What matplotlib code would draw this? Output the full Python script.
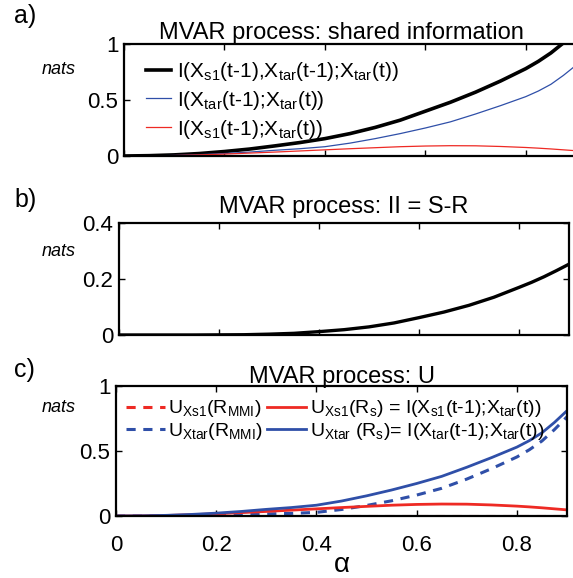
import matplotlib
matplotlib.use('Agg')
import matplotlib.pyplot as plt

# alpha grid and information curves (nats)
alpha = [0, .05, .1, .15, .2, .25, .3, .35, .4, .45, .5, .55, .6, .65, .7, .75, .8, .825, .85, .875, .9]

i_joint = [0, .003, .01, .022, .04, .062, .09, .12, .155, .2, .255, .32, .40, .48, .57, .67, .78, .845, .92, 1.01, 1.12]
i_tar = [0, .001, .005, .012, .022, .035, .051, .065, .083, .115, .155, .2, .25, .305, .375, .45, .53, .58, .64, .72, .81]
i_s1 = [0, .001, .004, .01, .017, .026, .035, .045, .055, .065, .074, .083, .089, .092, .091, .085, .076, .07, .063, .055, .047]

ii_sr = [0, 0, 0, 0, .0005, .001, .003, .006, .012, .019, .029, .043, .062, .082, .106, .135, .17, .188, .208, .23, .253]

u_s1_mmi = [0] * len(alpha)
u_tar_mmi = [0, 0, .001, .002, .005, .009, .016, .02, .028, .05, .081, .117, .161, .213, .284, .365, .454, .51, .577, .665, .763]

xticks = [0, 0.2, 0.4, 0.6, 0.8]

plt.rcParams['font.family'] = ['Liberation Sans', 'DejaVu Sans']
plt.rcParams['mathtext.default'] = 'regular'

AZUL = '#2f4fa8'
VERMELHO = '#ee2a24'

W, H = 573, 578


def caixa(x0, y_top, x1, y_bot):
    # pixel box -> figure fraction
    return [x0 / W, (H - y_bot) / H, (x1 - x0) / W, (y_bot - y_top) / H]


def estilo_eixo(ax, ylim, yticks, ylabels, rotulo_x=False):
    ax.set_xlim(0, 0.9)
    ax.set_ylim(*ylim)
    ax.set_xticks(xticks)
    ax.set_yticks(yticks)
    ax.set_yticklabels(ylabels)
    ax.tick_params(direction='in', top=True, right=True, length=4, width=1,
                   labelsize=16, pad=4)
    if rotulo_x:
        ax.set_xticklabels(['0', '0.2', '0.4', '0.6', '0.8'])
        ax.tick_params(axis='x', pad=14)
    else:
        ax.set_xticklabels([])
    for s in ax.spines.values():
        s.set_linewidth(1.6)


fig = plt.figure(figsize=(W / 100, H / 100), dpi=100)

# a) shared information
ax1 = fig.add_axes(caixa(124, 44, 576, 156))
ax1.plot(alpha, i_joint, color='black', lw=2.6,
         label=r'I(X$_{s1}$(t-1),X$_{tar}$(t-1);X$_{tar}$(t))')
ax1.plot(alpha, i_tar, color=AZUL, lw=0.9,
         label=r'I(X$_{tar}$(t-1);X$_{tar}$(t))')
ax1.plot(alpha, i_s1, color=VERMELHO, lw=0.9,
         label=r'I(X$_{s1}$(t-1);X$_{tar}$(t))')
estilo_eixo(ax1, (0, 1), [0, 0.5, 1], ['0', '0.5', '1'])
ax1.tick_params(axis='y', right=False)
ax1.set_title('MVAR process: shared information', fontsize=17, pad=3,
              x=0.48)
ax1.legend(loc='upper left', frameon=False, fontsize=15, handlelength=1.2,
           handletextpad=0.3, labelspacing=0.28, borderaxespad=0.2,
           bbox_to_anchor=(0.02, 0.97))

# b) interaction information
ax2 = fig.add_axes(caixa(119, 223, 569, 335))
ax2.plot(alpha, ii_sr, color='black', lw=2.4)
estilo_eixo(ax2, (0, 0.4), [0, 0.2, 0.4], ['0', '0.2', '0.4'])
ax2.set_title('MVAR process: II = S-R', fontsize=17, pad=7)

# c) unique information
ax3 = fig.add_axes(caixa(116, 386, 567, 516))
l1, = ax3.plot(alpha, u_s1_mmi, color=VERMELHO, lw=2.2, ls=(0, (3, 2.5)),
               label=r'U$_{Xs1}$(R$_{MMI}$)')
l2, = ax3.plot(alpha, u_tar_mmi, color=AZUL, lw=2.2, ls=(0, (3, 2.5)),
               label=r'U$_{Xtar}$(R$_{MMI}$)')
l3, = ax3.plot(alpha, i_s1, color=VERMELHO, lw=2.0,
               label=r'U$_{Xs1}$(R$_{s}$) = I(X$_{s1}$(t-1);X$_{tar}$(t))')
l4, = ax3.plot(alpha, i_tar, color=AZUL, lw=2.0,
               label=r'U$_{Xtar}$ (R$_{s}$)= I(X$_{tar}$(t-1);X$_{tar}$(t))')
estilo_eixo(ax3, (0, 1), [0, 0.5, 1], ['0', '0.5', '1'], rotulo_x=True)
ax3.set_title('MVAR process: U', fontsize=17, pad=2)
ax3.set_xlabel('α', fontsize=20, labelpad=-3)
ax3.legend(handles=[l1, l2, l3, l4], ncol=2, loc='upper left', frameon=False,
           fontsize=14, handlelength=2.0, handletextpad=0.2, labelspacing=0.1,
           columnspacing=0.2, borderaxespad=0.1, bbox_to_anchor=(0.0, 0.98))

# panel letters and units
for txt, y in [('a)', 16), ('b)', 200), ('c)', 370)]:
    fig.text(14 / W, 1 - y / H, txt, fontsize=18, va='center', ha='left')
for y in [70, 252, 408]:
    fig.text(59 / W, 1 - y / H, 'nats', fontsize=13, style='italic',
             va='center', ha='center')

fig.savefig('out.png', dpi=100)
